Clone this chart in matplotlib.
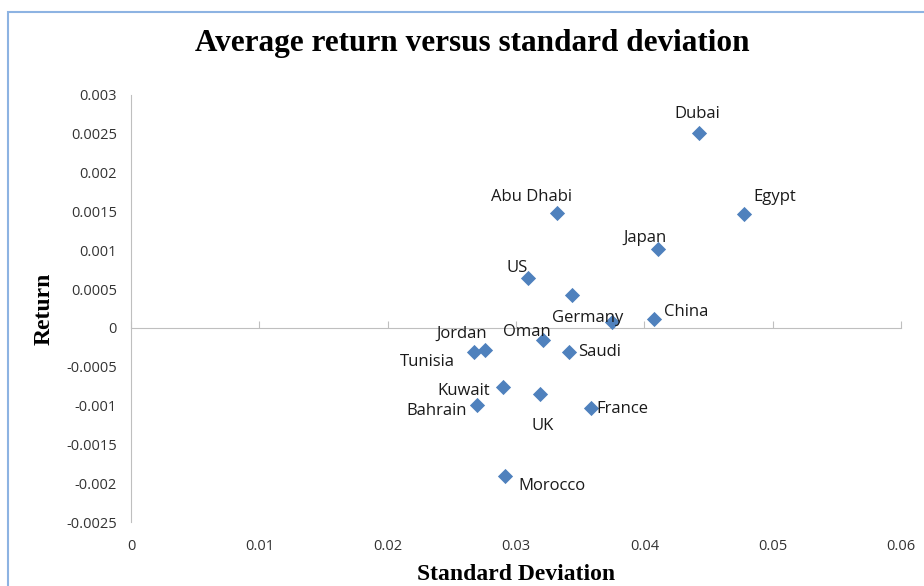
import matplotlib
matplotlib.use("Agg")
import matplotlib.pyplot as plt
from matplotlib.patches import Rectangle

# values (standard deviation, average return)
countries = ["Dubai", "Egypt", "Abu Dhabi", "Japan", "US", "", "Germany", "China",
             "Oman", "Saudi", "Tunisia", "Jordan", "Kuwait", "UK", "Bahrain",
             "France", "Morocco"]
std_dev = [0.04427, 0.04778, 0.03320, 0.04108, 0.03094, 0.03437, 0.03749, 0.04076,
           0.03211, 0.03414, 0.02673, 0.02759, 0.02899, 0.03188, 0.02697,
           0.03585, 0.02915]
avg_return = [0.00251, 0.00147, 0.00148, 0.00102, 0.00064, 0.000425, 0.000077, 0.000116,
              -0.000155, -0.00031, -0.00031, -0.000284, -0.00076, -0.00085, -0.00099,
              -0.00103, -0.00191]

x_ticks = [0, 0.01, 0.02, 0.03, 0.04, 0.05, 0.06]
x_labels = ["0", "0.01", "0.02", "0.03", "0.04", "0.05", "0.06"]
y_ticks = [-0.0025, -0.002, -0.0015, -0.001, -0.0005, 0, 0.0005, 0.001, 0.0015,
           0.002, 0.0025, 0.003]
y_labels = ["-0.0025", "-0.002", "-0.0015", "-0.001", "-0.0005", "0", "0.0005",
            "0.001", "0.0015", "0.002", "0.0025", "0.003"]

# label placement (pixel offsets from each marker)
label_offsets = {
    "Dubai": (-2, 19), "Egypt": (31, 17), "Abu Dhabi": (-26, 16), "Japan": (-13, 11),
    "US": (-11, 10), "Germany": (-24, 4), "China": (32, 7), "Oman": (-16, 8),
    "Saudi": (30, 0), "Tunisia": (-47, -10), "Jordan": (-23, 16), "Kuwait": (-39, -4),
    "UK": (3, -32), "Bahrain": (-40, -6), "France": (31, -1), "Morocco": (47, -10),
}

W, H = 924, 586
grey = "#BFBFBF"
serif = "Liberation Serif"
sans = "Open Sans"

fig = plt.figure(figsize=(W / 100, H / 100), dpi=100)
fig.patches.append(Rectangle((8 / W, -0.1), 1.2, 1 - 12 / H + 0.1, transform=fig.transFigure,
                             fill=False, ec="#8DB3E2", lw=1.5))

ax = fig.add_axes([131 / W, 1 - 522 / H, (901 - 131) / W, (522 - 95) / H])
ax.set_xlim(0, 0.06)
ax.set_ylim(-0.0025, 0.003)

for s in ["top", "right"]:
    ax.spines[s].set_visible(False)
ax.spines["left"].set_color(grey)
ax.spines["bottom"].set_color(grey)
ax.spines["bottom"].set_position(("data", 0))

ax.set_xticks(x_ticks)
ax.tick_params(axis="x", direction="in", length=5, color=grey, labelbottom=False)
ax.set_yticks(y_ticks, labels=y_labels)
ax.tick_params(axis="y", length=0, pad=10, labelsize=10.5, labelcolor="#333333")
for t in ax.get_yticklabels():
    t.set_family(sans)

sec = ax.secondary_xaxis("bottom")
sec.set_xticks(x_ticks, labels=x_labels)
sec.spines["bottom"].set_visible(False)
sec.tick_params(length=0, pad=12.5, labelsize=10.5, labelcolor="#333333")
for t in sec.get_xticklabels():
    t.set_family(sans)

ax.scatter(std_dev, avg_return, marker="D", s=60, color="#4F81BD", zorder=3,
           linewidths=0)

for name, x, y in zip(countries, std_dev, avg_return):
    if not name:
        continue
    dx, dy = label_offsets[name]
    ax.annotate(name, (x, y), xytext=(dx, dy), textcoords="offset pixels",
                ha="center", va="center", fontsize=12, family=sans, color="#1a1a1a")

fig.text(472 / W, 1 - 44 / H, "Average return versus standard deviation",
         ha="center", va="center", family=serif, weight="bold", fontsize=22.5)
fig.text(44 / W, 1 - 309 / H, "Return", rotation=90, ha="center", va="center",
         family=serif, weight="bold", fontsize=17)
fig.text(516 / W, 1 - 575 / H, "Standard Deviation", ha="center", va="center",
         family=serif, weight="bold", fontsize=17)

fig.savefig("out.png", dpi=100)
